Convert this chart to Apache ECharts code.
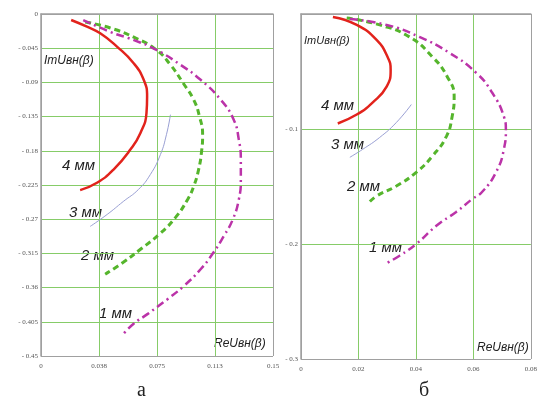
<!DOCTYPE html>
<html>
<head>
<meta charset="utf-8">
<script src="https://cdn.jsdelivr.net/npm/echarts@6/dist/echarts.min.js"></script>
<style>html,body{margin:0;padding:0;background:#fff}#c{width:540px;height:400px}</style>
</head>
<body>
<div id="c"></div>
<script>
// Panel а
var aXTicks = ["0", "0.038", "0.075", "0.113", "0.15"];
var aYTicks = ["0", "- 0.045", "- 0.09", "- 0.135", "- 0.18", "- 0.225", "- 0.27", "- 0.315", "- 0.36", "- 0.405", "- 0.45"];
var a4mm = [[0.0195,-0.0079],[0.0297,-0.0167],[0.0383,-0.0253],[0.0491,-0.0429],[0.0599,-0.0647],[0.0664,-0.0866],[0.0686,-0.1085],[0.0682,-0.1303],[0.0643,-0.1565],[0.0578,-0.1784],[0.0469,-0.2047],[0.0362,-0.2221],[0.0253,-0.2318]];
var a3mm = [[0.0837,-0.1325],[0.0811,-0.1588],[0.0772,-0.1850],[0.0707,-0.2112],[0.0630,-0.2309],[0.0532,-0.2467],[0.0428,-0.2637],[0.0318,-0.2795]];
var a2mm = [[0.0286,-0.0105],[0.0448,-0.0184],[0.0610,-0.0315],[0.0746,-0.0472],[0.0837,-0.0669],[0.0922,-0.0918],[0.0987,-0.1128],[0.1025,-0.1351],[0.1045,-0.1588],[0.1038,-0.1811],[0.1019,-0.2047],[0.0987,-0.2270],[0.0948,-0.2440],[0.0870,-0.2676],[0.0772,-0.2886],[0.0643,-0.3096],[0.0532,-0.3267],[0.0415,-0.3424]];
var a1mm = [[0.0273,-0.0079],[0.0448,-0.0236],[0.0597,-0.0341],[0.0746,-0.0472],[0.0902,-0.0669],[0.1032,-0.0866],[0.1162,-0.1128],[0.1246,-0.1391],[0.1279,-0.1653],[0.1292,-0.1916],[0.1292,-0.2178],[0.1279,-0.2440],[0.1240,-0.2703],[0.1181,-0.2926],[0.1116,-0.3136],[0.1032,-0.3359],[0.0922,-0.3582],[0.0818,-0.3752],[0.0688,-0.3949],[0.0597,-0.4080],[0.0526,-0.4225]];
// Panel б
var bXTicks = ["0", "0.02", "0.04", "0.06", "0.08"];
var bYTicks = ["", "- 0.1", "- 0.2", "- 0.3"];
var b4mm = [[0.0111,-0.0026],[0.0194,-0.0095],[0.0263,-0.0225],[0.0301,-0.0372],[0.0312,-0.0484],[0.0298,-0.0631],[0.0249,-0.0770],[0.0194,-0.0874],[0.0128,-0.0952]];
var b3mm = [[0.0384,-0.0787],[0.0332,-0.0943],[0.0274,-0.1073],[0.0215,-0.1176],[0.0170,-0.1246]];
var b2mm = [[0.0159,-0.0035],[0.0274,-0.0095],[0.0377,-0.0199],[0.0457,-0.0372],[0.0509,-0.0545],[0.0533,-0.0718],[0.0526,-0.0891],[0.0506,-0.1064],[0.0457,-0.1237],[0.0402,-0.1375],[0.0332,-0.1496],[0.0263,-0.1583],[0.0235,-0.1644]];
var b1mm = [[0.0170,-0.0043],[0.0298,-0.0095],[0.0412,-0.0199],[0.0516,-0.0337],[0.0609,-0.0510],[0.0665,-0.0683],[0.0706,-0.0891],[0.0713,-0.1003],[0.0706,-0.1176],[0.0679,-0.1375],[0.0630,-0.1548],[0.0596,-0.1609],[0.0540,-0.1721],[0.0471,-0.1842],[0.0402,-0.1998],[0.0343,-0.2102],[0.0301,-0.2163]];

var G = '#86cc68', F = '#a0a0a0';
var tickFont = {fontFamily: 'Liberation Serif', fontSize: 7, color: '#555'};
function gridColors(n){ var a=[F]; for(var i=1;i<n-1;i++) a.push(G); a.push(F); return a; }

function xAxis(idx, max, interval, ticks){
  return {type:'value', gridIndex: idx, min:0, max:max, interval:interval,
    axisLine:{show:true, lineStyle:{color:F, width:1.5}}, axisTick:{show:false},
    splitLine:{show:true, lineStyle:{color:gridColors(ticks.length), width:1}},
    axisLabel:Object.assign({margin:7, formatter:function(v){return ticks[Math.round(v/interval)];}}, tickFont)};
}
function yAxis(idx, min, interval, ticks){
  return {type:'value', gridIndex: idx, min:min, max:0, interval:interval,
    axisLine:{show:true, lineStyle:{color:F, width:1.5}}, axisTick:{show:false},
    splitLine:{show:true, lineStyle:{color:gridColors(ticks.length), width:1}},
    axisLabel:Object.assign({margin:3, formatter:function(v){return ticks[Math.round(-v/interval)];}}, tickFont)};
}
function s(data, idx, color, width, type){
  return {type:'line', xAxisIndex: idx, yAxisIndex: idx, data:data, smooth:true, symbol:'none',
    lineStyle:{color:color, width:width, type:type}, animation:false};
}
var RED='#e2231c', GRN='#55b52c', MAG='#bb33a8', BLU='#9aa0d4';
var lab = {fontFamily:'Liberation Sans', fontStyle:'italic', fontSize:12, fill:'#222'};
function t(x,y,text,extra){ return {type:'text', left:x, top:y, style:Object.assign({text:text}, lab, extra||{})}; }

var chart = echarts.init(document.getElementById('c'));
chart.setOption({
  backgroundColor:'#fff',
  animation:false,
  grid:[{left:41, top:14, width:232, height:342}, {left:301, top:14, width:232, height:345}],
  xAxis:[xAxis(0, 0.15, 0.0375, aXTicks), xAxis(1, 0.08, 0.02, bXTicks)],
  yAxis:[yAxis(0, -0.45, 0.045, aYTicks), yAxis(1, -0.3, 0.1, bYTicks)],
  series:[
    s(a4mm,0,RED,2.5,'solid'), s(a3mm,0,BLU,1,'solid'), s(a2mm,0,GRN,3,[6,4]), s(a1mm,0,MAG,2.5,[8,4,2,4]),
    s(b4mm,1,RED,2.5,'solid'), s(b3mm,1,BLU,1,'solid'), s(b2mm,1,GRN,3,[6,4]), s(b1mm,1,MAG,2.5,[8,4,2,4])
  ],
  graphic:[
    t(44,55,'ImUвн(β)',{fontSize:12}), t(62,158,'4 мм',{fontSize:15}), t(69,205,'3 мм',{fontSize:15}),
    t(81,248,'2 мм',{fontSize:15}), t(99,306,'1 мм',{fontSize:15}), t(214,338,'ReUвн(β)',{fontSize:12}),
    t(304,35,'ImUвн(β)',{fontSize:11}), t(321,98,'4 мм',{fontSize:15}), t(331,137,'3 мм',{fontSize:15}),
    t(347,179,'2 мм',{fontSize:15}), t(369,240,'1 мм',{fontSize:15}), t(477,342,'ReUвн(β)',{fontSize:12}),
    {type:'text', left:137, top:381, style:{text:'а', fontFamily:'Liberation Serif', fontSize:20, fill:'#222'}},
    {type:'text', left:419, top:381, style:{text:'б', fontFamily:'Liberation Serif', fontSize:20, fill:'#222'}}
  ]
});
</script>
</body>
</html>
